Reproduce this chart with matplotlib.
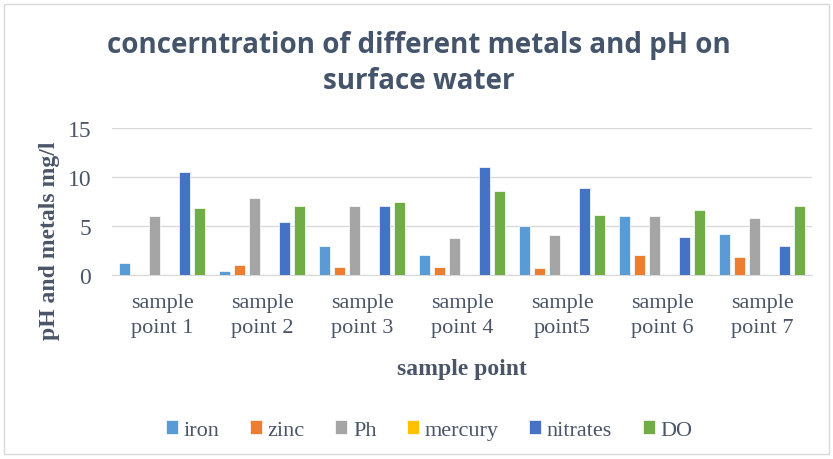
import numpy as np
import matplotlib
matplotlib.use("Agg")
import matplotlib.pyplot as plt
from matplotlib.patches import Rectangle

# Data
categories = ["sample\npoint 1", "sample\npoint 2", "sample\npoint 3", "sample\npoint 4",
              "sample\npoint5", "sample\npoint 6", "sample\npoint 7"]
iron = [1.2, 0.4, 3.0, 2.0, 5.0, 6.0, 4.2]
zinc = [0.0, 1.0, 0.85, 0.85, 0.7, 2.0, 1.8]
ph = [6.0, 7.8, 7.0, 3.75, 4.05, 6.0, 5.85]
mercury = [0, 0, 0, 0, 0, 0, 0]
nitrates = [10.5, 5.35, 7.0, 11.0, 8.9, 3.9, 3.0]
do = [6.8, 7.0, 7.45, 8.6, 6.15, 6.65, 7.0]

series = [("iron", iron, "#5B9BD5"), ("zinc", zinc, "#ED7D31"), ("Ph", ph, "#A5A5A5"),
          ("mercury", mercury, "#FFC000"), ("nitrates", nitrates, "#4472C4"), ("DO", do, "#70AD47")]

serif = "Liberation Serif"
txt = "#4A5568"

fig = plt.figure(figsize=(8.33, 4.60), dpi=100)
fig.patches.append(Rectangle((0.005, 0.01), 0.99, 0.98, transform=fig.transFigure,
                             fill=False, edgecolor="#D9D9D9", linewidth=1))
ax = fig.add_axes([0.1345, 0.40, 0.8405, 0.32])

x = np.arange(len(categories))
step = 0.15
width = 0.115
for i, (name, vals, col) in enumerate(series):
    ax.bar(x + (i - 2.5) * step, vals, width, color=col, label=name,
           edgecolor="white", linewidth=0.5, zorder=3)

ax.set_xlim(-0.5, len(categories) - 0.5)
ax.set_ylim(0, 15)
ax.set_yticks([0, 5, 10, 15])
ax.grid(axis="y", color="#D9D9D9", linewidth=1, zorder=0)
for s in ["top", "right", "left"]:
    ax.spines[s].set_visible(False)
ax.spines["bottom"].set_color("#D9D9D9")
ax.tick_params(length=0)
ax.set_xticks(x)
ax.set_xticklabels(categories, fontsize=16, family=serif, color=txt, linespacing=1.45)
ax.tick_params(axis="x", pad=13)
for t in ax.get_yticklabels():
    t.set_fontsize(17)
    t.set_family(serif)
    t.set_color(txt)
ax.tick_params(axis="y", pad=15)

# axis titles
fig.text(0.06, 0.477, "pH and metals mg/l", rotation=90, ha="center", va="center",
         fontsize=17, family=serif, fontweight="bold", color=txt)
fig.text(0.555, 0.196, "sample point", ha="center", va="center",
         fontsize=17, family=serif, fontweight="bold", color=txt)

fig.text(0.503, 0.902, "concerntration of different metals and pH on",
         ha="center", va="center", fontsize=20, family="Open Sans", fontweight="bold",
         color="#44546A")
fig.text(0.503, 0.822, "surface water",
         ha="center", va="center", fontsize=20, family="Open Sans", fontweight="bold",
         color="#44546A")

leg = fig.legend(loc="center", bbox_to_anchor=(0.515, 0.063), ncol=6, frameon=False,
                 prop={"family": serif, "size": 16}, handlelength=0.55, handleheight=0.55,
                 handletextpad=0.25, columnspacing=1.37)
for t in leg.get_texts():
    t.set_color(txt)

fig.savefig("out.png", dpi=100)
